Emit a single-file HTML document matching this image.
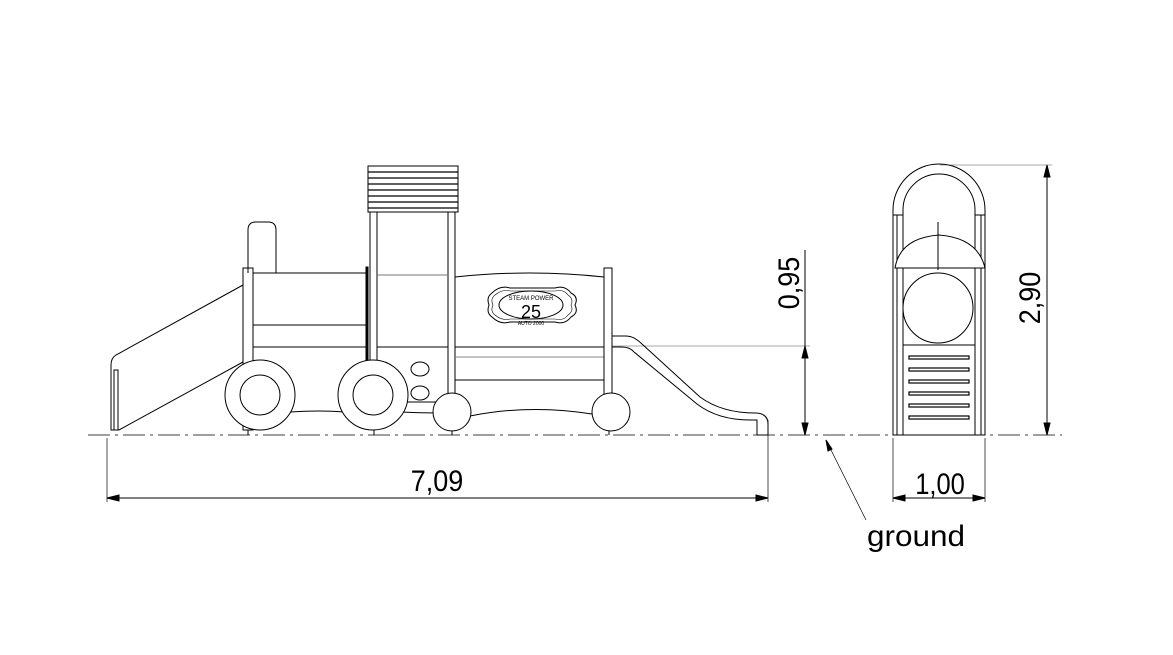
<!DOCTYPE html>
<html><head><meta charset="utf-8"><style>
html,body{margin:0;padding:0;background:#fff;}
svg{display:block;}
text{font-family:"Liberation Sans",sans-serif;fill:#000;}
</style></head><body>
<svg width="1173" height="655" viewBox="0 0 1173 655" xmlns="http://www.w3.org/2000/svg">
<g fill="none" stroke="#000" stroke-width="1">
<line x1="88" y1="435" x2="1062" y2="435" stroke-dasharray="22,5,3,5" stroke-width="0.8"/>
<line x1="107" y1="438" x2="107" y2="502" stroke-width="0.7"/>
<line x1="768" y1="420" x2="768" y2="502" stroke-width="0.7"/>
<line x1="107" y1="498" x2="768" y2="498"/>
<path d="M107,498 l12,-3 v6z M768,498 l-12,-3 v6z" fill="#000"/>
<line x1="893" y1="438" x2="893" y2="502" stroke-width="0.7"/>
<line x1="985" y1="438" x2="985" y2="502" stroke-width="0.7"/>
<line x1="893" y1="498" x2="985" y2="498"/>
<path d="M893,498 l12,-3 v6z M985,498 l-12,-3 v6z" fill="#000"/>
<line x1="612" y1="346" x2="810" y2="346" stroke-width="0.6" stroke="#555"/>
<line x1="805" y1="250" x2="805" y2="435"/>
<path d="M805,346 l-3,12 h6z M805,435 l-3,-12 h6z" fill="#000"/>
<line x1="940" y1="165" x2="1052" y2="165" stroke-width="0.6" stroke="#555"/>
<line x1="1047" y1="165" x2="1047" y2="435"/>
<path d="M1047,165 l-3,12 h6z M1047,435 l-3,-12 h6z" fill="#000"/>
<line x1="826" y1="440" x2="866" y2="520" stroke-width="0.7"/>
<path d="M826,440 l2,11 l4,-2z" fill="#000"/>

<g stroke-width="1">
<rect x="368" y="166" width="90" height="46"/>
<g stroke-width="1.3">
<line x1="368" y1="172" x2="458" y2="172"/><line x1="368" y1="178" x2="458" y2="178"/>
<line x1="368" y1="184" x2="458" y2="184"/><line x1="368" y1="190" x2="458" y2="190"/>
<line x1="368" y1="196" x2="458" y2="196"/><line x1="368" y1="202" x2="458" y2="202"/>
<line x1="368" y1="208" x2="458" y2="208"/>
</g>
<rect x="370" y="212" width="7" height="150"/>
<rect x="448" y="212" width="7" height="190"/>
<line x1="377" y1="275" x2="448" y2="275" stroke="#777"/>
<path d="M248,273 V230 q0,-8 8,-8 h12 q8,0 8,8 V273"/>
<rect x="253" y="273" width="115" height="74"/>
<rect x="253" y="325" width="115" height="22"/>
<rect x="366" y="267" width="2" height="95" fill="#000"/>
<rect x="243" y="268" width="10" height="162"/>
<path d="M243,285 L116,355 q-5,3 -5,10 V430 h8 L243,362"/>
<rect x="114" y="370" width="4" height="60"/>
<rect x="377" y="347" width="71" height="55"/>
<ellipse cx="420" cy="369" rx="9" ry="7"/>
<ellipse cx="420" cy="393" rx="9" ry="7"/>
<path d="M290,412 Q320,410 345,412 M400,412 Q420,413 440,413"/>
<circle cx="260" cy="395" r="35" fill="#fff"/><circle cx="260" cy="395" r="20"/>
<circle cx="373" cy="395" r="35" fill="#fff"/><circle cx="373" cy="395" r="20"/>
<line x1="248" y1="430" x2="248" y2="435"/><line x1="374" y1="430" x2="374" y2="435"/>
<path d="M455,277 Q530,269 604,277 V347 H455Z"/>
<rect x="455" y="347" width="149" height="33"/>
<line x1="455" y1="357" x2="604" y2="357" stroke="#888"/>
<path d="M470,416 Q530,404 592,414"/>
<line x1="455" y1="380" x2="455" y2="412"/><line x1="604" y1="380" x2="604" y2="412"/>
<path d="M492,293 q8,-8 18,-5 h45 q10,-3 16,5 q8,4 4,12 q4,8 -4,12 q-6,8 -16,5 h-45 q-10,3 -18,-5 q-6,-4 -3,-12 q-3,-8 3,-12z"/>
<path d="M495,295 q7,-6 15,-4 h45 q9,-2 13,4 q6,4 3,10 q3,6 -3,10 q-4,6 -13,4 h-45 q-8,2 -15,-4 q-5,-4 -2,-10 q-3,-6 2,-10z" stroke-width="0.6"/>
<ellipse cx="531" cy="305" rx="32" ry="14"/>
<rect x="604" y="268" width="8" height="127"/>
<circle cx="452" cy="412" r="19" fill="#fff"/>
<circle cx="611" cy="412" r="19" fill="#fff"/>
<line x1="452" y1="431" x2="452" y2="435"/><line x1="609" y1="431" x2="609" y2="435"/>
<path d="M612,336 H626 Q634,336 642,344 L700,397 Q722,413 755,413 Q768,413 768,424 V435 H757 V420 H750 Q718,420 697,404 L634,352 Q630,347 622,347 H612"/>
</g>
</g>
<text x="531" y="300" font-size="6" text-anchor="middle" font-family="Liberation Serif,serif">STEAM POWER</text>
<text x="531" y="318" font-size="18" text-anchor="middle" font-family="Liberation Serif,serif">25</text>
<text x="531" y="325" font-size="5" text-anchor="middle" font-family="Liberation Serif,serif">AUTO 2000</text>

<g fill="none" stroke="#000" stroke-width="1">
<path d="M893,215 V210 a46,46 0 0 1 92,0 V215 H975 V210 a36,36 0 0 0 -72,0 V215Z"/>
<rect x="893" y="215" width="10" height="220"/>
<rect x="975" y="215" width="10" height="220"/>
<line x1="897" y1="215" x2="897" y2="435"/><line x1="981" y1="215" x2="981" y2="435"/>
<path d="M895,268 Q900,238 939,235 Q978,238 985,268Z" fill="#fff"/>
<line x1="938" y1="222" x2="938" y2="270"/>
<circle cx="938" cy="308" r="35" fill="#fff"/>
<rect x="903" y="345" width="72" height="90" fill="#fff"/>
<g stroke-width="1.2">
<rect x="909" y="356" width="60" height="3"/><rect x="909" y="368" width="60" height="3"/>
<rect x="909" y="380" width="60" height="3"/><rect x="909" y="392" width="60" height="3"/>
<rect x="909" y="404" width="60" height="3"/><rect x="909" y="416" width="60" height="3"/>
</g>
</g>

<text x="437" y="491" font-size="30" text-anchor="middle" transform="translate(437 0) scale(0.9 1) translate(-437 0)">7,09</text>
<text x="940" y="494" font-size="30" text-anchor="middle" transform="translate(940 0) scale(0.85 1) translate(-940 0)">1,00</text>
<text font-size="30" text-anchor="middle" transform="translate(799 283) rotate(-90) scale(0.9 1)">0,95</text>
<text font-size="30" text-anchor="middle" transform="translate(1040 298) rotate(-90) scale(0.9 1)">2,90</text>
<text x="867" y="546" font-size="30" transform="translate(867 0) scale(1.05 1) translate(-867 0)">ground</text>
</svg>
</body></html>
